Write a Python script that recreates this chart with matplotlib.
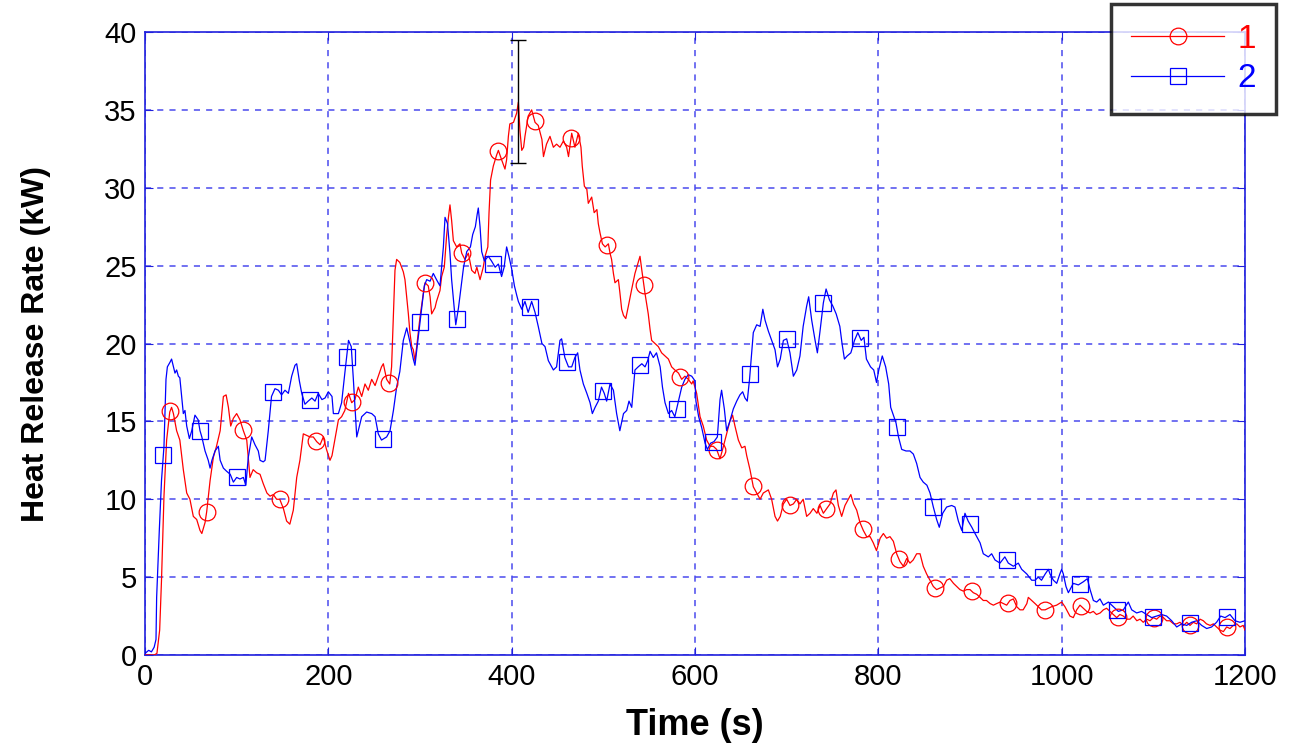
import numpy as np
import matplotlib
matplotlib.use('Agg')
from matplotlib import pyplot as plt
from matplotlib.lines import Line2D

plt.rcParams['font.family'] = ['Liberation Sans', 'DejaVu Sans']

# curve 1 (red), time in s / heat release rate in kW
t1 = [0, 10, 13, 16, 18, 20.7, 23.6, 27, 29, 31, 34.5, 38, 41.8, 45.5, 49, 52.7, 56.4, 60, 62, 65.5,
      67.3, 71, 74.6, 78, 82, 85.5, 88.5, 91, 93.5, 96.4, 100, 103.6, 107.3, 111, 114.5, 118, 121.8,
      125.5, 129, 133, 136.4, 140, 143.6, 147, 151, 154.5, 158, 161.8, 165.5, 169, 172.7, 176.4, 180,
      183.6, 187.3, 191, 194.5, 198, 201.8, 204, 207, 211, 214.5, 218, 222, 225.5, 229, 232.7, 236.4,
      240, 243.6, 247.3, 251, 254.5, 258, 260, 263.6, 267, 269, 271, 272.7, 274.5, 278, 281.8, 283.6,
      285.5, 287.3, 289, 291, 292.7, 294.5, 296.4, 300, 303.6, 305.5, 309, 311, 312.7, 314.5, 316.4,
      318, 321.8, 323.6, 326.5, 329, 331, 332.7, 334.5, 336.4, 340, 343.6, 345.5, 349, 352.7, 356.4,
      360, 362, 365.5, 369, 371, 374, 375.3, 377, 380, 383.6, 385.5, 389, 392.7, 394.5, 396.4, 398,
      402, 405.5, 407.3, 409, 411, 413, 414.5, 418, 421.8, 425.5, 429, 433, 434.7, 438, 441.8, 445.5,
      449, 452.7, 456.4, 460, 462, 465.5, 469, 472.7, 475.6, 477, 479.3, 482, 483.6, 487.3, 490, 493,
      494.5, 496.4, 499, 502, 505.5, 507.3, 509, 511, 512.7, 516.4, 518, 520, 522, 524.5, 527.3, 531,
      534.5, 537.5, 540, 542, 545.5, 549, 551, 552.7, 556.4, 560, 563.6, 567.3, 571, 574.5, 578, 582,
      585.5, 589, 592.7, 596.4, 598, 601.8, 605.5, 609, 612.7, 616.4, 620, 623.6, 627.3, 631, 634.5,
      638, 641, 643.6, 647.3, 651, 654.5, 656.4, 660, 663.6, 667.3, 671, 674.5, 680, 683.6, 687.3, 690,
      693, 696.4, 700, 703.6, 707.3, 711, 714.5, 718, 721.8, 725.5, 729, 733, 736.4, 740, 743.6, 747.3,
      751, 753.8, 756.4, 760, 763.6, 767.3, 770, 773, 776.4, 780, 783.6, 787.3, 791, 794.5, 798, 802,
      805.5, 809, 812.7, 816.4, 820, 823.6, 827.3, 831, 834.5, 838, 841.8, 845.5, 849, 852.7, 856.4,
      860, 863.6, 867.3, 871, 874.5, 878, 882, 885.5, 889, 892.7, 896.4, 900, 903.6, 907.3, 911, 914.5,
      918, 922, 925.5, 929, 933, 936.4, 940, 943.6, 947.3, 951, 954.5, 958, 962, 963.6, 967.3, 971,
      974.5, 978, 982, 985.5, 989, 994.5, 1000, 1003.6, 1009, 1012.7, 1016.4, 1020, 1023.6, 1027.3,
      1031, 1034.5, 1038, 1042, 1045.5, 1049, 1052.7, 1056.4, 1060, 1063.5, 1067.3, 1071, 1074.5, 1078,
      1082, 1085.5, 1089, 1092.7, 1096.4, 1100, 1103.6, 1107.3, 1111, 1114.5, 1118, 1122, 1125.5, 1129,
      1133, 1136.5, 1140, 1143.6, 1147.3, 1151, 1154.5, 1158, 1162, 1165.5, 1169, 1172.7, 1176.4, 1180,
      1183.6, 1187.3, 1191, 1194.5, 1198, 1200]
hrr1 = [0, 0, 0.1, 1.6, 4.8, 10.2, 13.8, 15.6, 15.9, 15.5, 14.4, 13.8, 11.9, 10.4, 10.0, 8.9, 8.7, 8.0, 7.8, 8.5,
        9.2, 11.2, 12.7, 13.4, 14.4, 16.6, 16.7, 15.9, 14.7, 15.2, 15.5, 15.1, 14.4, 13.8, 11.4, 11.9, 11.7,
        11.6, 11.0, 10.4, 10.2, 10.3, 10.0, 10.0, 9.4, 8.6, 8.4, 9.3, 11.4, 12.5, 14.2, 14.1, 14.0,
        14.0, 13.7, 13.5, 14.0, 13.2, 12.5, 12.8, 13.8, 15.1, 15.3, 15.7, 16.8, 16.2, 16.4, 17.2, 16.6,
        17.4, 17.0, 17.7, 17.3, 17.9, 18.5, 18.7, 17.7, 17.4, 18.5, 21.9, 24.7, 25.4, 25.2, 24.6, 24.1,
        23.0, 21.9, 20.7, 19.8, 19.6, 18.9, 19.8, 21.7, 23.2, 23.9, 23.7, 23.0, 21.9, 22.1, 22.3,
        22.7, 23.4, 24.3, 24.9, 26.9, 28.1, 28.9, 27.9, 26.6, 26.2, 26.4, 25.8, 25.4, 25.8, 24.7,
        24.5, 24.9, 24.1, 24.9, 25.6, 26.2, 28.4, 30.5, 31.4, 32.1, 32.4, 31.8, 31.2, 31.8, 33.3, 34.1,
        34.2, 34.8, 35.5, 33.7, 32.4, 32.6, 33.3, 34.6, 35.0, 34.2, 34.0, 33.1, 32.0, 32.8, 33.3, 32.6,
        32.8, 32.6, 33.0, 32.6, 32.0, 33.5, 32.6, 33.5, 32.6, 31.4, 30.1, 29.9, 29.0, 29.4, 28.4, 28.6,
        27.7, 27.1, 26.4, 26.2, 26.4, 25.8, 25.4, 24.5, 23.9, 24.1, 23.3, 22.2, 21.8, 21.6, 22.4, 23.5,
        24.5, 25.1, 25.6, 24.7, 23.2, 21.9, 20.9, 20.2, 20.0, 19.8, 19.4, 19.2, 19.0, 18.5, 18.3, 18.1,
        17.7, 17.9, 17.7, 17.4, 17.6, 16.8, 15.3, 14.7, 13.8, 13.4, 13.4, 13.2, 12.6, 13.4, 14.2,
        15.0, 15.4, 14.7, 13.8, 13.3, 13.4, 12.8, 11.9, 10.8, 10.4, 10.0, 10.4, 10.6, 10.0, 8.9, 8.6,
        8.9, 9.7, 10.0, 9.6, 9.7, 10.0, 9.7, 10.0, 8.9, 9.1, 9.4, 9.1, 9.6, 9.1, 9.4, 9.7,
        10.4, 10.6, 9.6, 8.9, 9.6, 10.0, 10.3, 9.7, 9.3, 8.5, 8.0, 7.6, 7.6, 7.2, 6.7, 7.5,
        7.8, 7.5, 7.6, 7.3, 6.5, 6.0, 5.7, 6.2, 5.9, 6.1, 6.5, 6.5, 5.7, 5.2, 4.8,
        4.4, 4.2, 4.3, 4.4, 4.8, 4.9, 4.6, 4.4, 4.2, 4.1, 4.2, 4.2, 4.0, 3.9, 3.7, 3.5,
        3.5, 3.3, 3.2, 3.3, 3.4, 3.3, 3.2, 3.5, 3.6, 3.1, 2.9, 2.9, 3.3, 3.7, 3.5, 3.3,
        3.1, 2.9, 2.9, 3.0, 3.1, 3.2, 3.4, 3.1, 2.5, 2.4, 2.9, 3.2, 3.0, 2.8,
        2.7, 2.8, 2.6, 2.7, 2.9, 3.0, 2.8, 2.6, 2.4, 2.6, 2.5, 2.3, 2.3, 2.5,
        2.2, 2.3, 2.1, 2.3, 2.2, 2.4, 2.3, 2.5, 2.4, 2.2, 2.2, 2.0, 2.0, 2.1,
        1.9, 2.1, 1.9, 2.1, 2.0, 2.3, 2.2, 2.0, 1.9, 2.0, 1.8, 1.6, 1.5, 1.8,
        1.7, 1.9, 2.0, 1.8, 1.9, 1.6]

# curve 2 (blue)
t2 = [0, 4, 7, 10, 12, 12.7, 15.6, 18, 20.7, 22.9, 24.4, 27.3, 29, 31, 32.7, 34.5, 36.4, 38, 40, 41.8,
      43.6, 45.5, 48.4, 51, 54.5, 58, 60, 62, 65.5, 69, 71, 73, 76.4, 80, 82, 85.5, 89, 93, 96.4, 100,
      103.6, 107.3, 110, 112.7, 116.4, 120, 123.6, 125.5, 129, 131, 134.5, 138, 141.8, 145.5, 149,
      152.7, 156.4, 160, 163.6, 165.5, 168.4, 171, 174.5, 178, 182, 185.5, 189, 193, 196.4, 200, 204,
      205.5, 211, 214.5, 218, 222, 225, 227.3, 231, 236.4, 241.8, 247.3, 251, 254.5, 258, 263.6, 267.3,
      271, 274.5, 278, 281.8, 285.5, 289, 292.7, 294.5, 297.5, 301, 304.7, 307.3, 311, 314.5, 318,
      321.8, 325.5, 327.3, 330, 332.7, 334.5, 336.4, 339, 342, 345, 347.5, 351, 355, 357.5, 360.4,
      362.4, 363.6, 365.5, 367.3, 370.2, 374.5, 378, 382, 385.5, 389, 391.8, 394.5, 397, 400, 403,
      405.5, 407.3, 411, 414.5, 418, 421.8, 425.5, 429, 433, 436.4, 440, 445.5, 449, 452.7, 454.5, 458,
      462, 465.5, 469, 472, 474.5, 478.2, 482, 485.5, 488, 491, 494.5, 498, 501, 503.6, 507.3, 511,
      514.5, 518, 522, 525.5, 528, 531, 534.5, 538, 542, 545.5, 548.4, 551, 554.5, 558, 562, 564.5,
      567.3, 571, 574.5, 578, 582, 585.5, 589, 592.7, 596.4, 600, 601, 604, 607.3, 611, 613.5, 617,
      620.7, 624.4, 627.3, 629, 632, 634.5, 638, 641.8, 645.5, 649, 652, 654.5, 657, 659.5, 661.8,
      663.6, 667.3, 671, 674, 676.4, 680, 683.6, 687.3, 690, 693, 696.4, 700, 703.6, 707.3, 711,
      714.5, 718, 721.8, 724, 727.3, 731, 733.5, 736.4, 740, 743, 746.7, 750.4, 754, 758, 760.4, 763,
      766, 770, 774, 777.6, 781.3, 784.3, 787, 791.5, 795, 798, 800.5, 804.3, 808, 811.3, 813.5,
      816.4, 819.3, 822, 825.5, 830.2, 834.5, 838.2, 841.8, 845.5, 849, 853, 856.4, 860, 863.6,
      866.5, 870.2, 874.5, 880, 883.6, 887.3, 891, 894.5, 898, 902, 905.5, 911, 914.5, 920, 923.6,
      927.3, 932.7, 938, 941.8, 947.3, 952.7, 956.4, 962, 967.3, 971, 974.5, 978, 982, 985.5, 987.3,
      991, 994.6, 998, 1000, 1001.8, 1004.7, 1007.3, 1012.7, 1018.2, 1023.6, 1028, 1031, 1034.6,
      1038.2, 1041.8, 1045.5, 1051, 1056.4, 1061.8, 1067.3, 1072.7, 1076.4, 1081.8, 1087.3, 1092.7,
      1098.2, 1103.6, 1109, 1114.5, 1120, 1125.5, 1131, 1136.4, 1141.8, 1147.3, 1152.7, 1158.2,
      1163.6, 1169, 1173.5, 1178.2, 1183.6, 1189, 1194.5, 1200]
hrr2 = [0.1, 0.3, 0.2, 0.5, 1.0, 3.7, 8.0, 11.2, 13.4, 17.7, 18.5, 18.8, 19.0, 18.5, 18.1, 18.3, 17.9, 17.8, 16.6, 15.5,
        15.7, 14.7, 13.9, 14.4, 15.4, 15.1, 14.4, 14.0, 13.1, 12.5, 12.0, 12.5, 13.1, 13.4, 12.5, 12.0, 11.8, 11.6, 11.1, 11.4,
        11.3, 11.4, 10.9, 12.7, 14.0, 13.5, 13.1, 12.5, 12.4, 12.5, 14.4, 16.6, 17.1, 17.0, 16.7,
        17.0, 16.8, 17.9, 18.6, 18.7, 17.6, 16.8, 16.1, 16.3, 16.5, 16.3, 16.8, 16.4, 16.5, 16.9, 16.6,
        15.5, 15.5, 16.2, 18.1, 20.2, 19.8, 17.7, 14.0, 15.3, 15.6, 15.5, 15.3, 14.2, 13.8, 14.0, 14.4,
        15.7, 17.2, 18.2, 20.2, 21.0, 20.1, 19.0, 18.6, 20.1, 21.9, 23.7, 24.1, 24.0, 24.5, 24.1,
        23.7, 26.2, 28.1, 27.7, 25.8, 24.1, 22.9, 21.2, 22.3, 23.7, 24.9, 25.9, 26.2, 27.0, 27.5,
        28.3, 28.7, 27.5, 25.9, 25.3, 25.6, 25.3, 24.9, 25.1, 24.3, 24.9, 26.2, 25.6, 24.8, 23.7,
        23.1, 22.7, 22.2, 22.7, 22.0, 22.7, 22.0, 21.1, 20.0, 19.8, 18.9, 18.3, 18.5, 20.2, 20.3, 19.1,
        18.5, 18.5, 19.1, 19.4, 18.3, 17.4, 16.8, 16.2, 15.5, 15.9, 16.3, 17.2, 16.8, 16.3, 17.4, 17.0,
        15.5, 14.4, 15.5, 15.7, 16.3, 15.9, 18.3, 18.5, 18.7, 18.5, 18.9, 19.5, 19.1, 19.4, 18.5, 17.2,
        16.2, 15.5, 15.7, 15.3, 16.3, 17.2, 17.7, 18.0, 17.9, 17.6, 16.3, 15.3, 14.6, 13.6, 13.2, 13.6,
        13.7, 14.0, 16.4, 17.0, 15.8, 14.4, 15.0, 15.8, 16.3, 16.7, 16.9, 16.5, 16.3, 17.7, 19.4,
        20.7, 21.2, 21.1, 22.2, 21.5, 20.8, 20.2, 19.6, 18.5, 19.0, 20.2, 20.3, 19.4, 17.9, 18.3,
        19.2, 21.1, 22.4, 23.0, 21.5, 20.2, 19.4, 20.8, 22.6, 23.5, 22.8, 22.4, 21.9, 21.1, 20.0, 19.0,
        19.2, 19.4, 20.2, 20.7, 20.2, 20.4, 19.0, 18.5, 18.3, 17.5, 18.3, 19.2, 18.5, 17.4, 15.9,
        15.4, 14.9, 14.0, 13.2, 13.1, 13.1, 12.9, 12.3, 11.4, 11.1, 10.9, 10.4, 9.5, 8.7,
        8.2, 9.1, 9.5, 9.6, 9.5, 8.6, 8.0, 9.1, 8.6, 8.2, 7.8, 7.2, 6.5, 6.3, 6.5,
        6.1, 5.9, 6.3, 5.9, 5.7, 5.9, 5.5, 5.2, 4.8, 4.8, 5.0, 4.8, 5.2, 5.5, 5.2,
        4.8, 4.6, 5.2, 5.5, 5.2, 4.4, 4.0, 4.6, 4.5, 4.7, 4.9, 4.2, 3.5,
        3.4, 3.6, 3.2, 3.4, 3.1, 2.8, 2.9, 3.4, 2.9, 2.7, 2.8, 2.6,
        2.4, 2.5, 2.6, 2.5, 2.2, 1.8, 2.0, 1.9, 2.1, 2.2, 1.9, 1.7,
        1.8, 2.1, 2.5, 2.4, 2.6, 2.2, 2.1, 2.2]

labels = ['1', '2']
colors = ['#ff0000', '#0000ff']
# marker spacing as in the picture
mark_start = [27.5, 20.0]
mark_step = [39.75, 40.0]
n_marks = 30

# error bar near the peak
err_t = 407
err_lo = 31.6
err_hi = 39.5

fig = plt.figure(figsize=(12.98, 7.49), dpi=100)
ax = fig.add_axes([145 / 1298, 1 - 655 / 749, 1100 / 1298, 623 / 749])

grid_c = '#4a4aee'
handles = []
for t, y, c, m, s0, ds, lab in zip([t1, t2], [hrr1, hrr2], colors, ['o', 's'],
                                    mark_start, mark_step, labels):
    ax.plot(t, y, color=c, lw=0.9, zorder=3)
    tm = s0 + ds * np.arange(n_marks)
    ax.plot(tm, np.interp(tm, t, y), ls='none', marker=m, ms=12, mfc='none',
            mec=c, mew=0.9, zorder=4)
    handles.append(Line2D([], [], color=c, lw=0.9, marker=m, ms=12, mfc='none',
                          mec=c, mew=0.9, label=lab))

mid = (err_lo + err_hi) / 2
ax.errorbar([err_t], [mid], yerr=[[mid - err_lo], [err_hi - mid]], fmt='none',
            ecolor='k', elinewidth=1, capsize=6, capthick=1, zorder=5)

ax.set_xlim(0, 1200)
ax.set_ylim(0, 40)
ax.set_xticks(range(0, 1201, 200))
ax.set_yticks(range(0, 41, 5))
ax.grid(True, color=grid_c, ls=(0, (4, 4)), lw=1.1)
for sp in ax.spines.values():
    sp.set_color('#2020dd')
    sp.set_linewidth(1.2)
ax.tick_params(direction='in', length=6, top=True, right=True, color='#2020dd',
               labelsize=21, pad=6)

ax.set_xlabel('Time (s)', fontsize=26, fontweight='bold', labelpad=12)
ax.set_ylabel('Heat Release Rate (kW)', fontsize=23, fontweight='bold', labelpad=38)

leg = fig.legend(handles=handles, loc='upper right', bbox_to_anchor=(1276 / 1298, 1 - 4 / 749),
                 fontsize=24, frameon=True, fancybox=False, edgecolor='k',
                 labelcolor='linecolor', handlelength=2.8, handletextpad=0.4,
                 borderpad=0.6, labelspacing=0.25, borderaxespad=0)
leg.get_frame().set_linewidth(2.5)

fig.savefig('out.png', dpi=100)
